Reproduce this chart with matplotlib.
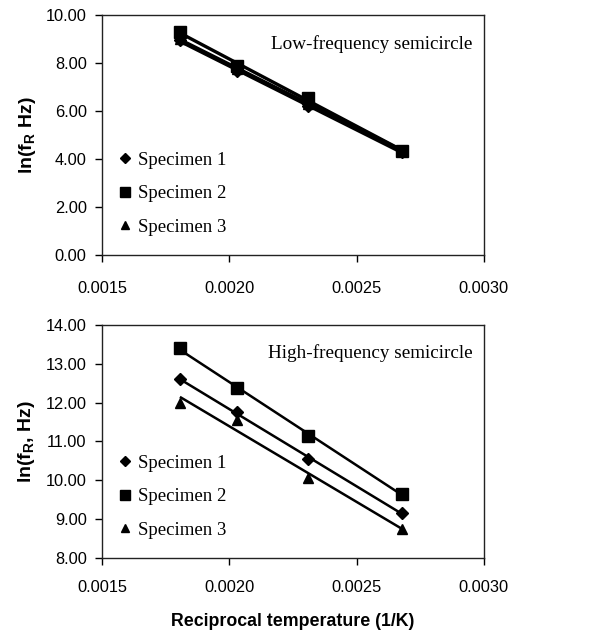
import numpy as np
import matplotlib
matplotlib.use("Agg")
import matplotlib.pyplot as plt
from matplotlib.lines import Line2D

# reciprocal temperature (1/K)
recip_temp = [0.001806, 0.00203, 0.00231, 0.00268]

# ln(fR) low-frequency semicircle
low_s1 = [8.95, 7.65, 6.20, 4.28]
low_s2 = [9.30, 7.85, 6.55, 4.32]
low_s3 = [9.00, 7.75, 6.30, 4.35]

# ln(fR) high-frequency semicircle
high_s1 = [12.60, 11.75, 10.55, 9.15]
high_s2 = [13.40, 12.38, 11.15, 9.65]
high_s3 = [12.00, 11.55, 10.05, 8.75]

specimens = ["Specimen 1", "Specimen 2", "Specimen 3"]
markers = ["D", "s", "^"]
msizes = [6, 8, 7.5]

xticks = [0.0015, 0.0020, 0.0025, 0.0030]
xtick_labels = ["0.0015", "0.0020", "0.0025", "0.0030"]

sans = "Liberation Sans"
serif = "Liberation Serif"

fig = plt.figure(figsize=(6.12, 6.32), dpi=100)
ax1 = fig.add_axes([0.1667, 0.5965, 0.624, 0.380])
ax2 = fig.add_axes([0.1667, 0.1171, 0.624, 0.3687])


def draw(ax, series, ylim, yticks, ylabel, note, lw, xpad):
    x = np.array(recip_temp)
    for y, m, ms in zip(series, markers, msizes):
        k, b = np.polyfit(x, y, 1)
        ax.plot(x, k * x + b, color="black", lw=lw, solid_capstyle="butt")
        ax.plot(x, y, ls="none", marker=m, ms=ms, color="black")
    ax.set_xlim(0.0015, 0.0030)
    ax.set_ylim(*ylim)
    ax.set_xticks(xticks)
    ax.set_xticklabels(xtick_labels, fontsize=11.8, family=sans)
    ax.set_yticks(yticks)
    ax.set_yticklabels(["%.2f" % v for v in yticks], fontsize=11.8, family=sans)
    ax.tick_params(direction="out", length=5, width=1, top=False, right=False, pad=6)
    ax.tick_params(axis="x", pad=xpad)
    for s in ax.spines.values():
        s.set_linewidth(1)
        s.set_color("#222222")
    ax.set_ylabel(ylabel, fontsize=14, family=sans, fontweight="bold", labelpad=6)
    ax.text(0.97, 0.88, note, transform=ax.transAxes, ha="right", va="center",
            fontsize=13.8, family=serif)
    handles = [Line2D([], [], ls="none", marker=m, ms=ms * 0.85, color="black")
               for m, ms in zip(markers, msizes)]
    ax.legend(handles, specimens, loc="lower left", bbox_to_anchor=(0.0, 0.01),
              frameon=False, handlelength=0.6, handletextpad=0.4, labelspacing=0.87,
              prop={"family": serif, "size": 13.5})


draw(ax1, [low_s1, low_s2, low_s3], (0, 10), [0, 2, 4, 6, 8, 10],
     "ln(f$_\\mathregular{R}$ Hz)", "Low-frequency semicircle", 2.4, 14)
draw(ax2, [high_s1, high_s2, high_s3], (8, 14), [8, 9, 10, 11, 12, 13, 14],
     "ln(f$_\\mathregular{R}$, Hz)", "High-frequency semicircle", 1.8, 11)
ax2.set_xlabel("Reciprocal temperature (1/K)", fontsize=12.8, family=sans,
               fontweight="bold", labelpad=13)

fig.savefig("out.png", dpi=100)
